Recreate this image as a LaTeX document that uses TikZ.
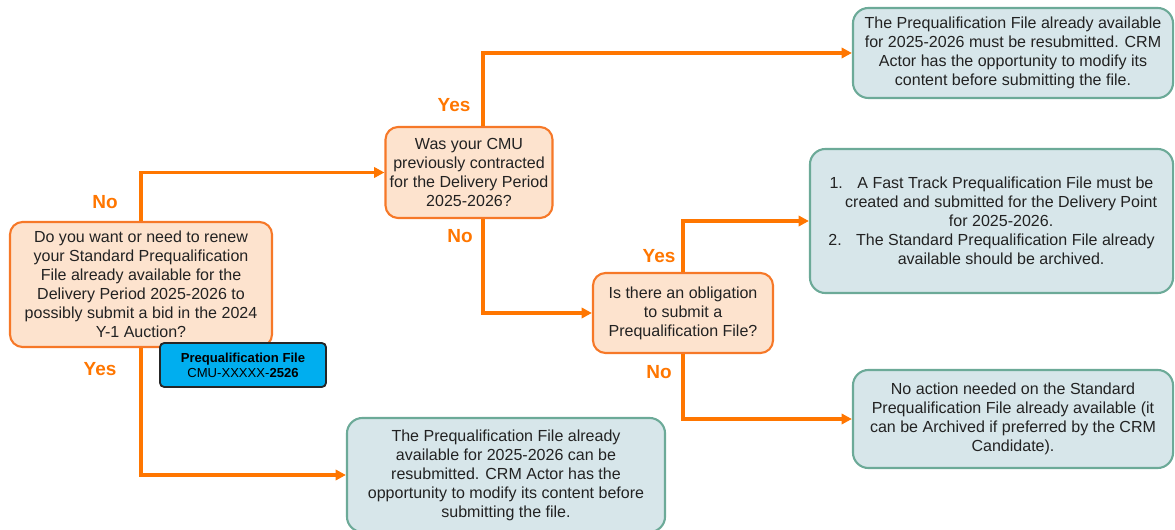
\documentclass[tikz,border=0pt]{standalone}
\usepackage{fontspec}
\setmainfont{Liberation Sans}
\usetikzlibrary{arrows.meta,calc,positioning}
\definecolor{flowline}{RGB}{255,118,0}
\definecolor{peach}{RGB}{253,227,206}
\definecolor{peachedge}{RGB}{246,120,40}
\definecolor{greyblue}{RGB}{215,230,234}
\definecolor{tealedge}{RGB}{108,170,152}
\definecolor{tagblue}{RGB}{0,174,239}
\definecolor{inktext}{RGB}{34,34,34}
\tikzset{
  question/.style={
    rounded corners=9pt,
    draw=peachedge,
    line width=1.5pt,
    fill=peach,
    align=center,
    text=inktext,
    inner sep=3pt,
    font=\fontsize{11.4}{13.5}\selectfont
  },
  answer/.style={
    rounded corners=11pt,
    draw=tealedge,
    line width=1.5pt,
    fill=greyblue,
    align=center,
    text=inktext,
    inner sep=3pt,
    font=\fontsize{11.4}{13.5}\selectfont
  },
  filetag/.style={
    rounded corners=3pt,
    draw=black!85,
    line width=1.3pt,
    fill=tagblue,
    align=center,
    inner sep=2pt,
    font=\fontsize{9.3}{10.8}\selectfont
  },
  flow/.style={
    -{Triangle[length=2.6mm,width=2.6mm]},
    line width=2.5pt,
    flowline
  },
  lbl/.style={
    text=flowline,
    font=\fontsize{13.5}{15}\selectfont\bfseries
  }
}

\begin{document}
\begin{tikzpicture}[x=0.025cm,y=-0.025cm]
\useasboundingbox (0,0) rectangle (1175,530);
% questions
\node[question, minimum width=6.55cm, minimum height=3.125cm] (q1) at (141,284.5) {Do you want or need to renew\\your Standard Prequalification\\File already available for the\\Delivery Period 2025-2026 to\\possibly submit a bid in the 2024\\Y-1 Auction?};
\node[filetag, minimum width=4.15cm, minimum height=1.1cm] (tag) at (243,365) {\textbf{Prequalification File}\\CMU-XXXXX-\textbf{2526}};
\node[question, minimum width=4.1cm, minimum height=2.275cm] (q2) at (469,172.5) {Was your CMU\\previously contracted\\for the Delivery Period\\2025-2026?};
\node[question, minimum width=4.5cm, minimum height=2cm] (q3) at (683,313) {Is there an obligation\\to submit a\\Prequalification File?};
% outcomes
\node[answer, minimum width=8cm, minimum height=2.25cm] (a1) at (1013,53) {The Prequalification File already available\\for 2025-2026 must be resubmitted. CRM\\Actor has the opportunity to modify its\\content before submitting the file.};
\node[answer, minimum width=9.075cm, minimum height=3.6cm] (a2) at (991.5,221) {1.\hspace{0.9em}A Fast Track Prequalification File must be\\\hspace{1.2em}created and submitted for the Delivery Point\\\hspace{1.2em}for 2025-2026.\\2.\hspace{0.9em}The Standard Prequalification File already\\\hspace{1.2em}available should be archived.};
\node[answer, minimum width=8cm, minimum height=2.45cm] (a3) at (1013,419) {No action needed on the Standard\\Prequalification File already available (it\\can be Archived if preferred by the CRM\\Candidate).};
\node[answer, minimum width=7.95cm, minimum height=2.85cm] (a4) at (506,475) {The Prequalification File already\\available for 2025-2026 can be\\resubmitted. CRM Actor has the\\opportunity to modify its content before\\submitting the file.};
% connectors
\draw[flow] (q1) |- (q2);
\draw[flow] (q1) |- (a4);
\draw[flow] ([xshift=0.35cm]q2.north) |- (a1);
\draw[flow] ([xshift=0.35cm]q2.south) |- (q3);
\draw[flow] (q3) |- (a2);
\draw[flow] (q3) |- (a3);
% labels
\node[lbl] (no1) at (105,202) {No};
\node[lbl] (yes1) at (100,369) {Yes};
\node[lbl] (yes2) at (454,105) {Yes};
\node[lbl] (no2) at (460,236) {No};
\node[lbl] (yes3) at (659,256) {Yes};
\node[lbl] (no3) at (659,372) {No};
\end{tikzpicture}
\end{document}
